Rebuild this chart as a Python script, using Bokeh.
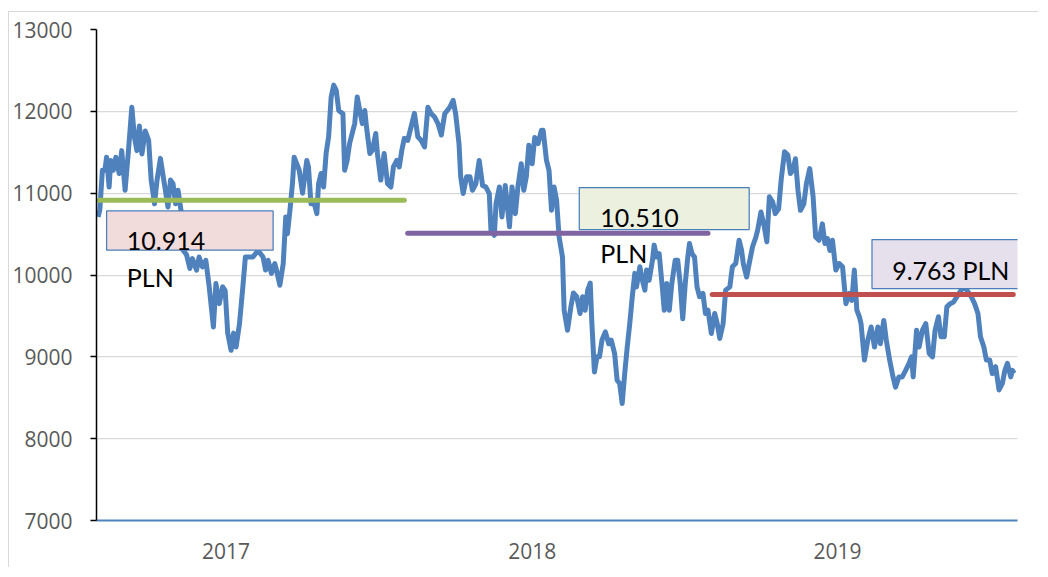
from bokeh.plotting import figure
from bokeh.models import Range1d, FixedTicker, BoxAnnotation, Label
from bokeh.embed import file_html
from bokeh.resources import INLINE

# ---- data ----
# days since 2017-01-01 and price readings of the series
days = [
    2, 4, 7, 10, 12, 15, 17, 20, 23, 27,
    30, 34, 38, 42, 45, 48, 51, 54, 58, 62,
    65, 69, 72, 76, 80, 85, 88, 91, 94, 97,
    101, 103, 107, 111, 114, 119, 122, 126, 130, 134,
    139, 142, 146, 150, 153, 156, 160, 163, 166, 170,
    174, 177, 182, 186, 192, 198, 201, 204, 208, 212,
    214, 218, 222, 225, 227, 230, 233, 235, 238, 241,
    245, 247, 250, 252, 255, 259, 262, 264, 267, 270,
    273, 276, 279, 282, 285, 288, 293, 295, 298, 301,
    304, 307, 310, 313, 316, 319, 321, 325, 328, 332,
    334, 338, 342, 346, 350, 353, 357, 360, 363, 366,
    370, 374, 378, 382, 386, 390, 394, 398, 402, 406,
    410, 414, 420, 424, 427, 431, 433, 436, 440, 444,
    447, 451, 455, 459, 463, 467, 469, 473, 475, 479,
    482, 486, 491, 494, 498, 501, 505, 508, 511, 514,
    518, 521, 525, 529, 531, 535, 538, 541, 544, 547,
    550, 554, 556, 560, 564, 567, 571, 575, 578, 581,
    584, 587, 589, 592, 595, 598, 601, 605, 609, 612,
    616, 619, 622, 625, 628, 631, 634, 637, 640, 642,
    646, 649, 652, 654, 657, 661, 663, 666, 669, 673,
    675, 678, 681, 684, 688, 691, 694, 697, 700, 703,
    705, 708, 711, 714, 717, 721, 724, 727, 731, 735,
    738, 741, 745, 748, 753, 756, 760, 764, 767, 769,
    773, 776, 780, 784, 786, 790, 794, 797, 800, 804,
    807, 811, 814, 818, 822, 825, 828, 831, 834, 837,
    841, 844, 848, 852, 855, 859, 863, 866, 869, 872,
    875, 879, 883, 887, 891, 895, 898, 901, 904, 907,
    909, 913, 917, 921, 925, 929, 932, 936, 939, 943,
    947, 950, 954, 958, 962, 966, 969, 971, 975, 978,
    982, 986, 990, 994, 997, 1001, 1004, 1008, 1011, 1015,
    1019, 1023, 1028, 1032, 1036, 1040, 1044, 1048, 1051, 1055,
    1058, 1062, 1065, 1069, 1073, 1077, 1080, 1083, 1087, 1089,
    1091,
]
prices = [
    10710, 10800, 11280, 11280, 11440, 11075, 11400, 11280, 11440, 11240,
    11520, 11035, 11520, 12050, 11690, 11520, 11820, 11480, 11760, 11645,
    11160, 10870, 11160, 11425, 11160, 10830, 11160, 11115, 10870, 11035,
    10750, 10300, 10250, 10080, 10200, 10060, 10220, 10100, 10180, 9855,
    9365, 9895, 9650, 9855, 9810, 9290, 9080, 9290, 9120, 9405,
    9855, 10220, 10220, 10220, 10300, 10220, 10060, 10180, 10020, 10140,
    10060, 9875, 10140, 10710, 10505, 10790, 11120, 11440, 11360, 11280,
    11000, 11160, 11400, 11320, 10870, 10870, 10750, 11115, 11240, 11075,
    11485, 11690, 12175, 12320, 12260, 12010, 11970, 11280, 11400, 11610,
    11730, 11850, 12175, 12010, 11850, 12010, 11810, 11485, 11525, 11730,
    11485, 11160, 11485, 11115, 11075, 11320, 11400, 11320, 11525, 11670,
    11645, 11810, 11975, 11690, 11645, 11565, 12050, 11970, 11930, 11850,
    11710, 11970, 12050, 12135, 11970, 11605, 11200, 10995, 11200, 11200,
    11035, 11115, 11400, 11095, 11075, 10995, 10545, 10485, 10870, 11075,
    10710, 11095, 10590, 11075, 10750, 11075, 11360, 11035, 11200, 11585,
    11360, 11680, 11605, 11770, 11770, 11400, 11280, 10790, 11075, 10915,
    10465, 10220, 9570, 9325, 9610, 9780, 9735, 9530, 9735, 9570,
    9815, 9900, 9405, 8815, 9000, 9000, 9205, 9305, 9160, 9205,
    9040, 8715, 8675, 8430, 8795, 9120, 9405, 9735, 10020, 9855,
    10100, 9935, 9815, 10060, 9935, 10180, 10365, 10220, 10260, 9815,
    9570, 9895, 9570, 9895, 10180, 10180, 9895, 9465, 9895, 10220,
    10385, 10260, 10220, 9855, 9735, 9775, 9530, 9570, 9285, 9530,
    9405, 9225, 9405, 9815, 9855, 10100, 10140, 10425, 10300, 10140,
    9975, 10140, 10345, 10465, 10545, 10770, 10590, 10405, 10955, 10890,
    10750, 10810, 11160, 11505, 11465, 11240, 11280, 11420, 11035, 10790,
    10870, 11115, 11300, 10955, 10465, 10425, 10625, 10385, 10445, 10300,
    10425, 10060, 10140, 10100, 9650, 9775, 9690, 10060, 9570, 9490,
    9405, 8960, 9205, 9365, 9120, 9365, 9160, 9445, 9205, 8960,
    8755, 8630, 8755, 8755, 8835, 8920, 9000, 8755, 9325, 9120,
    9325, 9405, 9040, 9000, 9325, 9490, 9245, 9245, 9610, 9650,
    9670, 9735, 9815, 9855, 9795, 9735, 9650, 9530, 9245, 9120,
    8960, 8960, 8795, 8880, 8595, 8675, 8835, 8920, 8755, 8835,
    8800,
]
assert len(days) == len(prices)

# yearly averages
avg_values = [10914, 10510, 9763]
avg_start_days = [3, 370, 732]
avg_end_days = [366, 727, 1090]
avg_colors = ["#9bbb59", "#8064a2", "#c0504d"]

y_ticks = [7000, 8000, 9000, 10000, 11000, 12000, 13000]
year_tick_days = [154, 518, 881]
year_labels = ["2017", "2018", "2019"]

# ---- figure ----
p = figure(width=1030, height=556, output_backend="svg", toolbar_location=None,
           x_range=Range1d(0, 1095), y_range=Range1d(7000, 13000),
           min_border_left=87, min_border_right=22, min_border_top=17, min_border_bottom=48)
p.styles = {"margin-left": "8px", "margin-top": "11px",
            "border-left": "1px solid #d9d9d9", "border-top": "1px solid #d9d9d9"}
p.outline_line_color = None
p.background_fill_color = "white"
p.border_fill_color = "white"

AX_FONT = "Open Sans"

# y axis
p.yaxis.ticker = FixedTicker(ticks=y_ticks)
p.yaxis.axis_line_color = "black"
p.yaxis.axis_line_width = 1.5
p.yaxis.major_tick_line_color = "black"
p.yaxis.major_tick_line_width = 1.5
p.yaxis.major_tick_out = 6
p.yaxis.major_tick_in = 0
p.yaxis.minor_tick_line_color = None
p.yaxis.major_label_text_font = AX_FONT
p.yaxis.major_label_text_font_size = "21px"
p.yaxis.major_label_text_color = "#595959"
p.yaxis.major_label_standoff = 18

# x axis
p.xaxis.ticker = FixedTicker(ticks=year_tick_days)
p.xaxis.major_label_overrides = {d: lab for d, lab in zip(year_tick_days, year_labels)}
p.xaxis.axis_line_color = "#4f81bd"
p.xaxis.axis_line_width = 2
p.xaxis.major_tick_line_color = None
p.xaxis.minor_tick_line_color = None
p.xaxis.major_label_text_font = AX_FONT
p.xaxis.major_label_text_font_size = "21px"
p.xaxis.major_label_text_color = "#595959"
p.xaxis.major_label_standoff = 16

p.xgrid.visible = False
p.ygrid.ticker = FixedTicker(ticks=y_ticks)
p.ygrid.grid_line_color = "#d9d9d9"
p.ygrid.grid_line_width = 1.25

# price series
p.line(days, prices, line_color="#4f81bd", line_width=5, line_join="round")

# yearly average lines
for s, e, v, c in zip(avg_start_days, avg_end_days, avg_values, avg_colors):
    p.line([s, e], [v, v], line_color=c, line_width=5, line_cap="round")

# annotation boxes
boxes = [
    dict(left=12, right=210, top=10783, bottom=10303, fill="#f2dcdb"),
    dict(left=574, right=776, top=11068, bottom=10556, fill="#ebf1de"),
    dict(left=922, right=1102, top=10433, bottom=9835, fill="#e5e0ec"),
]
for b in boxes:
    p.add_layout(BoxAnnotation(left=b["left"], right=b["right"], top=b["top"], bottom=b["bottom"],
                               fill_color=b["fill"], fill_alpha=1.0, level="overlay",
                               line_color="#4a7ebb", line_width=1.25, line_alpha=1.0))

TXT_FONT = "Lato"
labels = [
    (36, 10421, "10.914"), (36, 9981, "PLN"),
    (599, 10693, "10.510"), (599, 10266, "PLN"),
    (946, 10062, "9.763 PLN"),
]
for x, y, t in labels:
    p.add_layout(Label(x=x, y=y, text=t, text_font=TXT_FONT, text_font_size="25px", level="overlay",
                       text_color="black", text_baseline="alphabetic", text_align="left"))

open("out.html", "w").write(file_html(p, INLINE))
